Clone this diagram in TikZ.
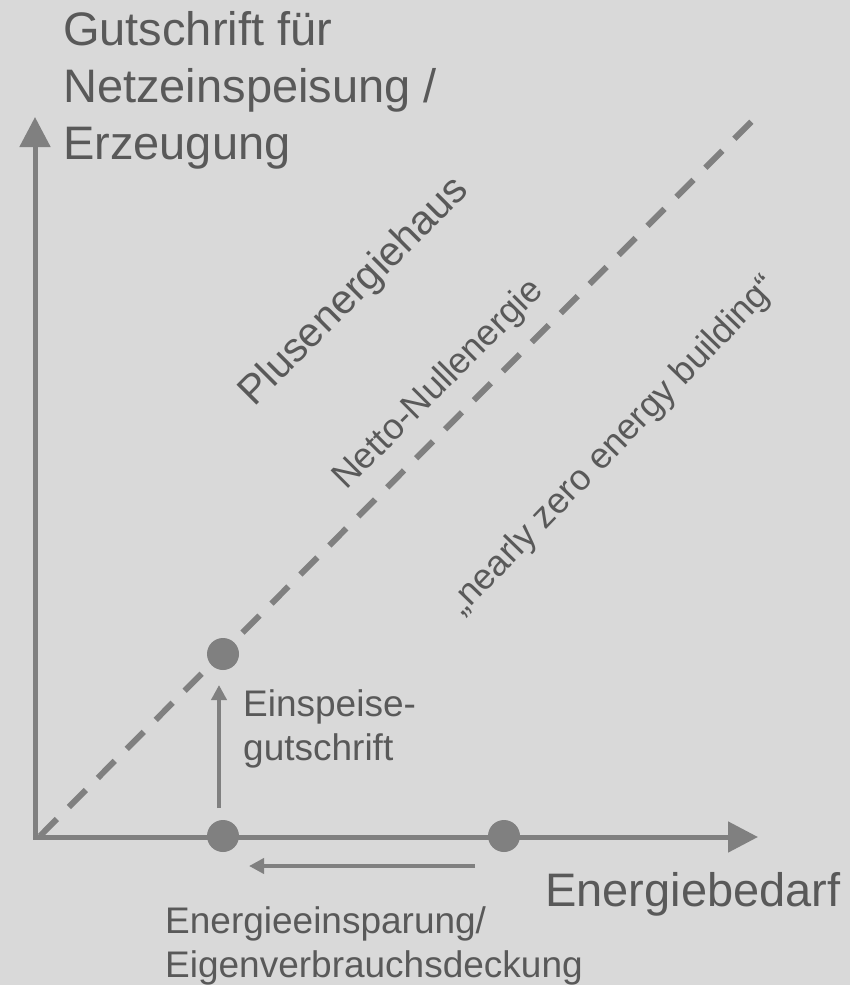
\documentclass[tikz,border=0pt]{standalone}
\usepackage{fontspec}
\setmainfont{Liberation Sans}
\usetikzlibrary{arrows.meta}
\definecolor{bg}{HTML}{D9D9D9}
\definecolor{ln}{HTML}{808080}
\definecolor{tx}{HTML}{595959}
\begin{document}
\begin{tikzpicture}[x=1pt,y=-1pt,
  axis/.style={draw=ln, line width=5pt, -{Triangle[length=30pt,width=30pt]}},
  thinarrow/.style={draw=ln, line width=4pt, -{Triangle[length=15pt,width=15pt]}},
  diag/.style={draw=ln, line width=6pt, dash pattern=on 24pt off 17pt},
  dot/.style={circle, fill=ln, minimum size=32pt, inner sep=0pt},
  lbl/.style={text=tx, inner sep=0pt},
  big/.style={font=\fontsize{47pt}{57pt}\selectfont},
  small/.style={font=\fontsize{36pt}{44pt}\selectfont}]
\fill[bg] (0,0) rectangle (850,985);
\useasboundingbox (0,0) rectangle (850,985);
% axes
\coordinate (yorig) at (35,839);
\coordinate (ytip) at (35,117);
\coordinate (xorig) at (33,837);
\coordinate (xtip) at (758,837);
\draw[axis] (yorig) -- (ytip);
\draw[axis] (xorig) -- (xtip);
% diagonal
\coordinate (dstart) at (40,836);
\coordinate (dend) at (757,116);
\draw[diag] (dstart) -- (dend);
% dots
\node[dot] (dtop) at (223,654) {};
\node[dot] (dlow) at (223,836) {};
\node[dot] (dright) at (504,836) {};
% small arrows
\coordinate (ea) at (219,808);
\coordinate (eb) at (219,685);
\draw[thinarrow] (ea) -- (eb);
\coordinate (sa) at (475,866);
\coordinate (sb) at (249,866);
\draw[thinarrow] (sa) -- (sb);
% labels (multi-line nodes: base = baseline of last line)
\node[lbl, big, align=left, anchor=base west] (ytitle) at (63,159) {Gutschrift für\\Netzeinspeisung /\\Erzeugung};
\node[lbl, big, anchor=base west] (xtitle) at (545,906) {Energiebedarf};
\node[lbl, font=\fontsize{37pt}{44pt}\selectfont, align=left, anchor=base west] (einsp) at (243,760) {Einspeise-\\gutschrift};
\node[lbl, font=\fontsize{37pt}{44pt}\selectfont, align=left, anchor=base west] (spar) at (165,977) {Energieeinsparung/\\Eigenverbrauchsdeckung};
\node[lbl, font=\fontsize{41pt}{49pt}\selectfont, rotate=45] (plus) at (355,292) {Plusenergiehaus};
\node[lbl, small, rotate=45] (netto) at (439,385) {Netto-Nullenergie};
\node[lbl, small, rotate=46] (nzeb) at (614,446) {„nearly zero energy building“};
\end{tikzpicture}
\end{document}
